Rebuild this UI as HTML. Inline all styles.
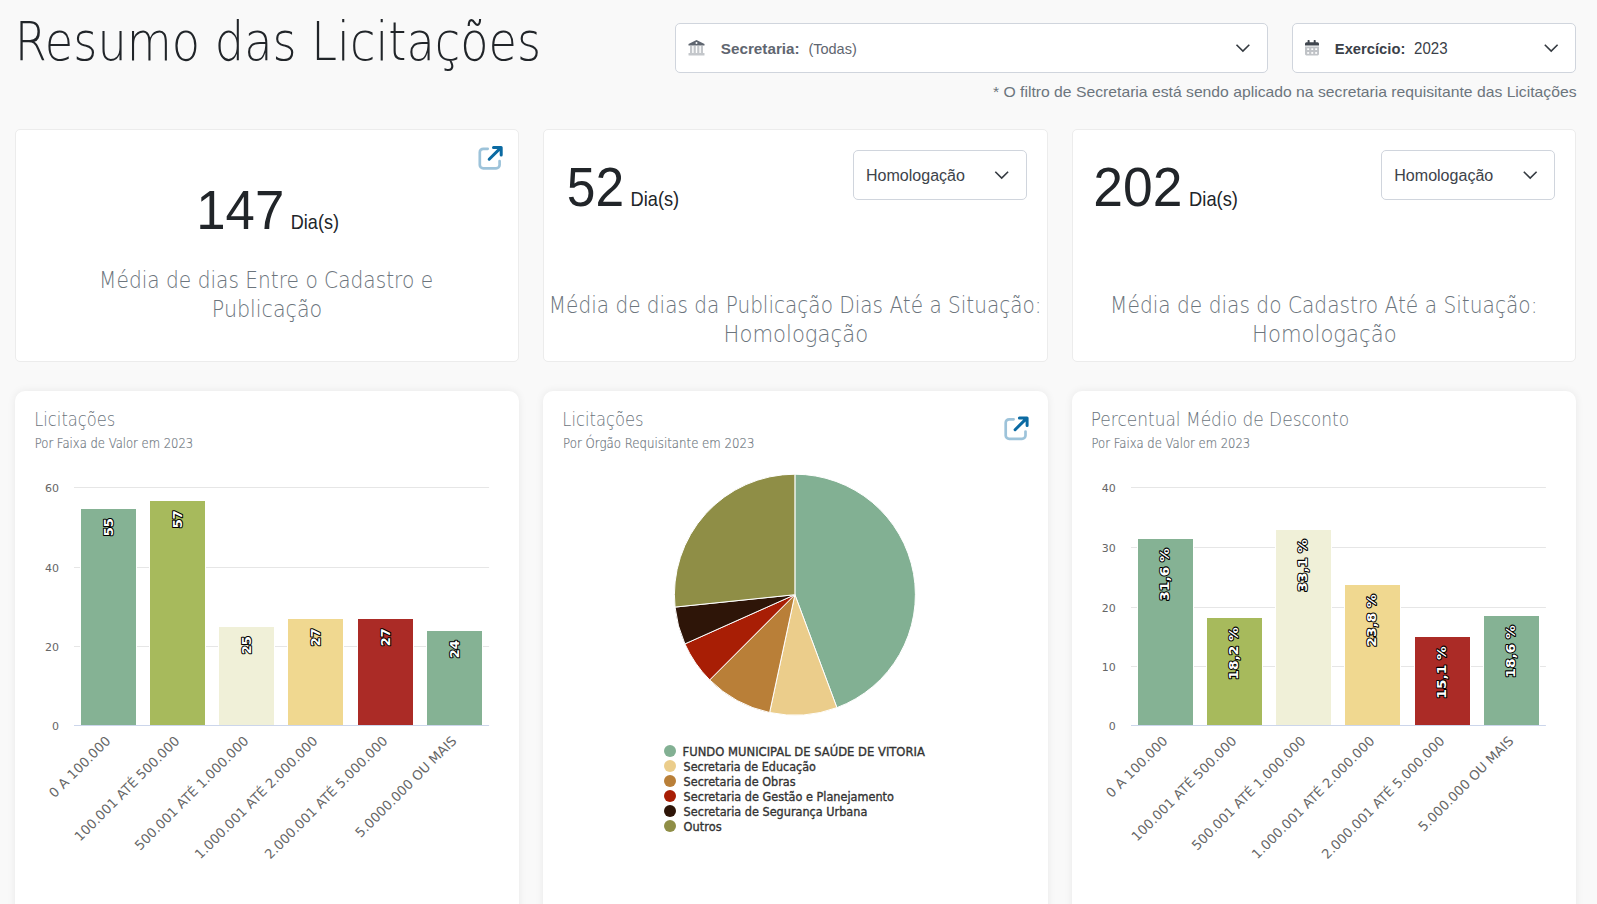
<!DOCTYPE html>
<html lang="pt-BR"><head><meta charset="utf-8"><title>Resumo das Licitações</title>
<style>
*{box-sizing:border-box;margin:0;padding:0}
html,body{width:1597px;height:904px;overflow:hidden;background:#f9f9f9}
body{position:relative;font-family:"Liberation Sans",sans-serif;color:#212529}
.sel{position:absolute;background:#fff;border:1px solid #d0d5dd;border-radius:5px}
.card{position:absolute;background:#fff;border:1px solid #ececec;border-radius:5px;top:129px;height:233px}
.card2{position:absolute;background:#fff;border-radius:10px;top:391px;height:560px;box-shadow:0 0 8px rgba(0,0,0,0.07)}
svg{position:absolute;left:0;top:0}
svg text{font-family:"DejaVu Sans",sans-serif;white-space:pre}
.dl{font-size:13px;font-weight:bold;fill:#fff;stroke:#000;stroke-width:2px;paint-order:stroke;stroke-linejoin:round}
.lg{font-size:11.5px;fill:#333333;stroke:#333333;stroke-width:0.35px}
</style></head>
<body>
<div class="sel" style="left:675px;top:23px;width:593px;height:50px"></div>
<div class="sel" style="left:1292px;top:23px;width:284px;height:50px"></div>
<div class="card" style="left:15px;width:504px"></div>
<div class="card" style="left:543px;width:505px"></div>
<div class="card" style="left:1072px;width:504px"></div>
<div class="sel" style="left:853px;top:150px;width:174px;height:50px"></div>
<div class="sel" style="left:1381px;top:150px;width:174px;height:50px"></div>
<div class="card2" style="left:15px;width:504px"></div>
<div class="card2" style="left:543px;width:505px"></div>
<div class="card2" style="left:1072px;width:504px"></div>
<svg width="1597" height="904" viewBox="0 0 1597 904">
<text x="14.74" y="59.6" style="font-family:'DejaVu Sans', 'Liberation Sans', sans-serif;font-weight:200;font-size:52.8px" fill="#212529" textLength="526.33" lengthAdjust="spacingAndGlyphs">Resumo das Licitações</text>
<text x="720.8" y="53.5" style="font-family:'Liberation Sans', sans-serif;font-weight:700;font-size:15px" fill="#5f6670" textLength="78.81" lengthAdjust="spacingAndGlyphs">Secretaria:</text>
<text x="808.4" y="53.5" style="font-family:'Liberation Sans', sans-serif;font-weight:400;font-size:15px" fill="#5f6670" textLength="48.4" lengthAdjust="spacingAndGlyphs">(Todas)</text>
<text x="1334.82" y="53.5" style="font-family:'Liberation Sans', sans-serif;font-weight:700;font-size:15px" fill="#3a4048" textLength="70.56" lengthAdjust="spacingAndGlyphs">Exercício:</text>
<text x="1414.1" y="53.7" style="font-family:'Liberation Sans', sans-serif;font-weight:400;font-size:15.6px" fill="#3a4048" textLength="33.55" lengthAdjust="spacingAndGlyphs">2023</text>
<text x="993" y="96.8" style="font-family:'Liberation Sans', sans-serif;font-weight:400;font-size:15px" fill="#6c757d" textLength="583.52" lengthAdjust="spacingAndGlyphs">* O filtro de Secretaria está sendo aplicado na secretaria requisitante das Licitações</text>
<text x="196.23" y="229.1" style="font-family:'Liberation Sans', sans-serif;font-weight:400;font-size:56px" fill="#212529" textLength="87.99" lengthAdjust="spacingAndGlyphs">147</text>
<text x="290.81" y="229.1" style="font-family:'Liberation Sans', sans-serif;font-weight:400;font-size:20.3px" fill="#212529" textLength="48.16" lengthAdjust="spacingAndGlyphs">Dia(s)</text>
<text x="99.1" y="287.8" style="font-family:'DejaVu Sans', 'Liberation Sans', sans-serif;font-weight:200;font-size:22.4px" fill="#6c757d" textLength="334" lengthAdjust="spacingAndGlyphs">Média de dias Entre o Cadastro e</text>
<text x="211.86" y="316.9" style="font-family:'DejaVu Sans', 'Liberation Sans', sans-serif;font-weight:200;font-size:22.4px" fill="#6c757d" textLength="110.31" lengthAdjust="spacingAndGlyphs">Publicação</text>
<text x="566.76" y="206" style="font-family:'Liberation Sans', sans-serif;font-weight:400;font-size:56px" fill="#212529" textLength="57.31" lengthAdjust="spacingAndGlyphs">52</text>
<text x="630.6" y="206" style="font-family:'Liberation Sans', sans-serif;font-weight:400;font-size:20.3px" fill="#212529" textLength="48.58" lengthAdjust="spacingAndGlyphs">Dia(s)</text>
<text x="865.98" y="180.7" style="font-family:'Liberation Sans', sans-serif;font-weight:400;font-size:15.8px" fill="#3d434a" textLength="99" lengthAdjust="spacingAndGlyphs">Homologação</text>
<text x="548.81" y="312.6" style="font-family:'DejaVu Sans', 'Liberation Sans', sans-serif;font-weight:200;font-size:22.4px" fill="#6c757d" textLength="492.77" lengthAdjust="spacingAndGlyphs">Média de dias da Publicação Dias Até a Situação:</text>
<text x="723.61" y="341.6" style="font-family:'DejaVu Sans', 'Liberation Sans', sans-serif;font-weight:200;font-size:22.4px" fill="#6c757d" textLength="144.5" lengthAdjust="spacingAndGlyphs">Homologação</text>
<text x="1093.29" y="206" style="font-family:'Liberation Sans', sans-serif;font-weight:400;font-size:56px" fill="#212529" textLength="89.05" lengthAdjust="spacingAndGlyphs">202</text>
<text x="1189.1" y="206" style="font-family:'Liberation Sans', sans-serif;font-weight:400;font-size:20.3px" fill="#212529" textLength="48.89" lengthAdjust="spacingAndGlyphs">Dia(s)</text>
<text x="1394.28" y="180.7" style="font-family:'Liberation Sans', sans-serif;font-weight:400;font-size:15.8px" fill="#3d434a" textLength="99" lengthAdjust="spacingAndGlyphs">Homologação</text>
<text x="1110.1" y="312.7" style="font-family:'DejaVu Sans', 'Liberation Sans', sans-serif;font-weight:200;font-size:22.4px" fill="#6c757d" textLength="427.39" lengthAdjust="spacingAndGlyphs">Média de dias do Cadastro Até a Situação:</text>
<text x="1252.11" y="341.6" style="font-family:'DejaVu Sans', 'Liberation Sans', sans-serif;font-weight:200;font-size:22.4px" fill="#6c757d" textLength="144.5" lengthAdjust="spacingAndGlyphs">Homologação</text>
<text x="34.25" y="426.1" style="font-family:'DejaVu Sans', 'Liberation Sans', sans-serif;font-weight:200;font-size:19.75px" fill="#6c757d" textLength="81.02" lengthAdjust="spacingAndGlyphs">Licitações</text>
<text x="34.72" y="447.9" style="font-family:'DejaVu Sans', 'Liberation Sans', sans-serif;font-weight:200;font-size:13.2px" fill="#6c757d" textLength="158.5" lengthAdjust="spacingAndGlyphs" stroke="#6c757d" stroke-width="0.2">Por Faixa de Valor em 2023</text>
<text x="562.34" y="425.9" style="font-family:'DejaVu Sans', 'Liberation Sans', sans-serif;font-weight:200;font-size:19.75px" fill="#6c757d" textLength="81.22" lengthAdjust="spacingAndGlyphs">Licitações</text>
<text x="563.11" y="447.9" style="font-family:'DejaVu Sans', 'Liberation Sans', sans-serif;font-weight:200;font-size:13.2px" fill="#6c757d" textLength="191.43" lengthAdjust="spacingAndGlyphs" stroke="#6c757d" stroke-width="0.2">Por Órgão Requisitante em 2023</text>
<text x="1090.68" y="426" style="font-family:'DejaVu Sans', 'Liberation Sans', sans-serif;font-weight:200;font-size:19.75px" fill="#6c757d" textLength="258.45" lengthAdjust="spacingAndGlyphs">Percentual Médio de Desconto</text>
<text x="1091.52" y="447.9" style="font-family:'DejaVu Sans', 'Liberation Sans', sans-serif;font-weight:200;font-size:13.2px" fill="#6c757d" textLength="158.71" lengthAdjust="spacingAndGlyphs" stroke="#6c757d" stroke-width="0.2">Por Faixa de Valor em 2023</text>
<text x="682.59" y="756" style="font-family:'DejaVu Sans', 'Liberation Sans', sans-serif;font-weight:400;font-size:11.5px" fill="#333333" textLength="242.27" lengthAdjust="spacingAndGlyphs" stroke="#333333" stroke-width="0.35">FUNDO MUNICIPAL DE SAÚDE DE VITORIA</text>
<text x="683.6" y="771" style="font-family:'DejaVu Sans', 'Liberation Sans', sans-serif;font-weight:400;font-size:11.5px" fill="#333333" textLength="132.23" lengthAdjust="spacingAndGlyphs" stroke="#333333" stroke-width="0.35">Secretaria de Educação</text>
<text x="683.6" y="786" style="font-family:'DejaVu Sans', 'Liberation Sans', sans-serif;font-weight:400;font-size:11.5px" fill="#333333" textLength="111.99" lengthAdjust="spacingAndGlyphs" stroke="#333333" stroke-width="0.35">Secretaria de Obras</text>
<text x="683.6" y="801" style="font-family:'DejaVu Sans', 'Liberation Sans', sans-serif;font-weight:400;font-size:11.5px" fill="#333333" textLength="210.34" lengthAdjust="spacingAndGlyphs" stroke="#333333" stroke-width="0.35">Secretaria de Gestão e Planejamento</text>
<text x="683.6" y="816" style="font-family:'DejaVu Sans', 'Liberation Sans', sans-serif;font-weight:400;font-size:11.5px" fill="#333333" textLength="183.73" lengthAdjust="spacingAndGlyphs" stroke="#333333" stroke-width="0.35">Secretaria de Segurança Urbana</text>
<text x="683.6" y="831" style="font-family:'DejaVu Sans', 'Liberation Sans', sans-serif;font-weight:400;font-size:11.5px" fill="#333333" textLength="37.99" lengthAdjust="spacingAndGlyphs" stroke="#333333" stroke-width="0.35">Outros</text>

<g transform="translate(688,39.5)">
    <path d="M8.5 0.5 L16.5 4.5 V6 H0.5 V4.5 Z" fill="#5f6670"/>
    <circle cx="8.5" cy="3.6" r="1" fill="#fff"/>
    <rect x="2" y="6.5" width="2.2" height="7" fill="#c4c7cb"/><rect x="5.6" y="6.5" width="2.2" height="7" fill="#c4c7cb"/><rect x="9.2" y="6.5" width="2.2" height="7" fill="#c4c7cb"/><rect x="12.8" y="6.5" width="2.2" height="7" fill="#c4c7cb"/>
    <rect x="0.5" y="13.5" width="16" height="2.5" rx="0.5" fill="#c4c7cb"/>
</g>
<g transform="translate(1305,40)">
    <rect x="2.6" y="0" width="2" height="3.2" rx="0.7" fill="#40464e"/><rect x="8.7" y="0" width="2" height="3.2" rx="0.7" fill="#40464e"/>
    <path d="M0 3.8 A1.5 1.5 0 0 1 1.5 2.3 H12.5 A1.5 1.5 0 0 1 14 3.8 V5.6 H0 Z" fill="#40464e"/>
    <path d="M0 6.4 H14 V14 A1.4 1.4 0 0 1 12.6 15.4 H1.4 A1.4 1.4 0 0 1 0 14 Z" fill="#c0c3c7"/>
    <g fill="#fff"><rect x="2.2" y="8.3" width="1.9" height="1.7"/><rect x="6.3" y="8.3" width="1.9" height="1.7"/><rect x="10.2" y="8.3" width="1.9" height="1.7"/><rect x="2.2" y="12.1" width="1.9" height="1.7"/><rect x="6.3" y="12.1" width="1.9" height="1.7"/><rect x="10.2" y="12.1" width="1.9" height="1.7"/></g>
</g>
<path d="M1236.5 44.8 L1242.9 51.1 L1249.3 44.8" fill="none" stroke="#343a40" stroke-width="1.6"/>
<path d="M1544.8 44.8 L1551.2 51.1 L1557.6 44.8" fill="none" stroke="#343a40" stroke-width="1.6"/>
<path d="M995.3 171.8 L1001.7 178.1 L1008.1 171.8" fill="none" stroke="#343a40" stroke-width="1.6"/>
<path d="M1523.8 171.8 L1530.2 178.1 L1536.6 171.8" fill="none" stroke="#343a40" stroke-width="1.6"/>
<g transform="translate(478.3,146)">
<path d="M9.4 2.8 H5 A3.5 3.5 0 0 0 1.5 6.3 V18.9 A3.5 3.5 0 0 0 5 22.4 H17.8 A3.5 3.5 0 0 0 21.3 18.9 V15" fill="none" stroke="#0b6aa2" stroke-opacity="0.4" stroke-width="2.7" stroke-linecap="round"/>
<path d="M10.9 13.2 L22.6 1.6 M15.2 1.5 H22.9 V9" fill="none" stroke="#0b6aa2" stroke-width="3" stroke-linecap="round" stroke-linejoin="round"/>
</g>
<g transform="translate(1004.2,416.5)">
<path d="M9.4 2.8 H5 A3.5 3.5 0 0 0 1.5 6.3 V18.9 A3.5 3.5 0 0 0 5 22.4 H17.8 A3.5 3.5 0 0 0 21.3 18.9 V15" fill="none" stroke="#0b6aa2" stroke-opacity="0.4" stroke-width="2.7" stroke-linecap="round"/>
<path d="M10.9 13.2 L22.6 1.6 M15.2 1.5 H22.9 V9" fill="none" stroke="#0b6aa2" stroke-width="3" stroke-linecap="round" stroke-linejoin="round"/>
</g>

<text x="58.9" y="729.8" text-anchor="end" font-size="11" fill="#666666">0</text>
<line x1="74" x2="489.1" y1="646.5" y2="646.5" stroke="#e6e6e6" stroke-width="1"/>
<text x="58.9" y="650.8" text-anchor="end" font-size="11" fill="#666666">20</text>
<line x1="74" x2="489.1" y1="567.5" y2="567.5" stroke="#e6e6e6" stroke-width="1"/>
<text x="58.9" y="571.8" text-anchor="end" font-size="11" fill="#666666">40</text>
<line x1="74" x2="489.1" y1="487.5" y2="487.5" stroke="#e6e6e6" stroke-width="1"/>
<text x="58.9" y="491.8" text-anchor="end" font-size="11" fill="#666666">60</text>
<rect x="80.5" y="508.5" width="56" height="217.0" fill="#85b294" stroke="#ffffff" stroke-width="1"/>
<text transform="translate(113.1,518.2) rotate(-90)" text-anchor="end" class="dl">55</text>
<text transform="translate(111.4,741.7) rotate(-45)" text-anchor="end" font-size="13.2" fill="#666666">0 A 100.000</text>
<rect x="149.5" y="500.5" width="56" height="225.0" fill="#a7ba5c" stroke="#ffffff" stroke-width="1"/>
<text transform="translate(182.1,510.2) rotate(-90)" text-anchor="end" class="dl">57</text>
<text transform="translate(180.4,741.7) rotate(-45)" text-anchor="end" font-size="13.2" fill="#666666">100.001 ATÉ 500.000</text>
<rect x="218.5" y="626.5" width="56" height="99.0" fill="#f0f0d8" stroke="#ffffff" stroke-width="1"/>
<text transform="translate(251.1,636.2) rotate(-90)" text-anchor="end" class="dl">25</text>
<text transform="translate(249.4,741.7) rotate(-45)" text-anchor="end" font-size="13.2" fill="#666666">500.001 ATÉ 1.000.000</text>
<rect x="287.5" y="618.5" width="56" height="107.0" fill="#f0d890" stroke="#ffffff" stroke-width="1"/>
<text transform="translate(320.1,628.2) rotate(-90)" text-anchor="end" class="dl">27</text>
<text transform="translate(318.4,741.7) rotate(-45)" text-anchor="end" font-size="13.2" fill="#666666">1.000.001 ATÉ 2.000.000</text>
<rect x="357.5" y="618.5" width="56" height="107.0" fill="#ab2b26" stroke="#ffffff" stroke-width="1"/>
<text transform="translate(390.1,628.2) rotate(-90)" text-anchor="end" class="dl">27</text>
<text transform="translate(388.4,741.7) rotate(-45)" text-anchor="end" font-size="13.2" fill="#666666">2.000.001 ATÉ 5.000.000</text>
<rect x="426.5" y="630.5" width="56" height="95.0" fill="#85b294" stroke="#ffffff" stroke-width="1"/>
<text transform="translate(459.1,640.2) rotate(-90)" text-anchor="end" class="dl">24</text>
<text transform="translate(457.4,741.7) rotate(-45)" text-anchor="end" font-size="13.2" fill="#666666">5.0000.000 OU MAIS</text>
<line x1="74" x2="489.1" y1="725.5" y2="725.5" stroke="#ccd6eb" stroke-width="1"/>
<text x="1115.7" y="729.8" text-anchor="end" font-size="11" fill="#666666">0</text>
<line x1="1131" x2="1545.9" y1="666.5" y2="666.5" stroke="#e6e6e6" stroke-width="1"/>
<text x="1115.7" y="670.8" text-anchor="end" font-size="11" fill="#666666">10</text>
<line x1="1131" x2="1545.9" y1="607.5" y2="607.5" stroke="#e6e6e6" stroke-width="1"/>
<text x="1115.7" y="611.8" text-anchor="end" font-size="11" fill="#666666">20</text>
<line x1="1131" x2="1545.9" y1="547.5" y2="547.5" stroke="#e6e6e6" stroke-width="1"/>
<text x="1115.7" y="551.8" text-anchor="end" font-size="11" fill="#666666">30</text>
<line x1="1131" x2="1545.9" y1="487.5" y2="487.5" stroke="#e6e6e6" stroke-width="1"/>
<text x="1115.7" y="491.8" text-anchor="end" font-size="11" fill="#666666">40</text>
<rect x="1137.5" y="538.5" width="56" height="187.0" fill="#85b294" stroke="#ffffff" stroke-width="1"/>
<text transform="translate(1169.3,548.2) rotate(-90)" text-anchor="end" class="dl" textLength="52.5" lengthAdjust="spacingAndGlyphs">31,6 %</text>
<text transform="translate(1168.4,741.7) rotate(-45)" text-anchor="end" font-size="13.2" fill="#666666">0 A 100.000</text>
<rect x="1206.5" y="617.5" width="56" height="108.0" fill="#a7ba5c" stroke="#ffffff" stroke-width="1"/>
<text transform="translate(1238.3,627.2) rotate(-90)" text-anchor="end" class="dl" textLength="52.5" lengthAdjust="spacingAndGlyphs">18,2 %</text>
<text transform="translate(1237.4,741.7) rotate(-45)" text-anchor="end" font-size="13.2" fill="#666666">100.001 ATÉ 500.000</text>
<rect x="1275.5" y="529.5" width="56" height="196.0" fill="#f0f0d8" stroke="#ffffff" stroke-width="1"/>
<text transform="translate(1307.3,539.2) rotate(-90)" text-anchor="end" class="dl" textLength="52.5" lengthAdjust="spacingAndGlyphs">33,1 %</text>
<text transform="translate(1306.4,741.7) rotate(-45)" text-anchor="end" font-size="13.2" fill="#666666">500.001 ATÉ 1.000.000</text>
<rect x="1344.5" y="584.5" width="56" height="141.0" fill="#f0d890" stroke="#ffffff" stroke-width="1"/>
<text transform="translate(1376.3,594.2) rotate(-90)" text-anchor="end" class="dl" textLength="52.5" lengthAdjust="spacingAndGlyphs">23,8 %</text>
<text transform="translate(1375.4,741.7) rotate(-45)" text-anchor="end" font-size="13.2" fill="#666666">1.000.001 ATÉ 2.000.000</text>
<rect x="1414.5" y="636.5" width="56" height="89.0" fill="#ab2b26" stroke="#ffffff" stroke-width="1"/>
<text transform="translate(1446.3,646.2) rotate(-90)" text-anchor="end" class="dl" textLength="52.5" lengthAdjust="spacingAndGlyphs">15,1 %</text>
<text transform="translate(1445.4,741.7) rotate(-45)" text-anchor="end" font-size="13.2" fill="#666666">2.000.001 ATÉ 5.000.000</text>
<rect x="1483.5" y="615.5" width="56" height="110.0" fill="#85b294" stroke="#ffffff" stroke-width="1"/>
<text transform="translate(1515.3,625.2) rotate(-90)" text-anchor="end" class="dl" textLength="52.5" lengthAdjust="spacingAndGlyphs">18,6 %</text>
<text transform="translate(1514.4,741.7) rotate(-45)" text-anchor="end" font-size="13.2" fill="#666666">5.000.000 OU MAIS</text>
<line x1="1131" x2="1545.9" y1="725.5" y2="725.5" stroke="#ccd6eb" stroke-width="1"/>
<path d="M794.9 594.7 L794.9 474.2 A120.5 120.5 0 0 1 836.9 707.64 Z" fill="#82b093" stroke="#ffffff" stroke-width="1" stroke-linejoin="round"/>
<path d="M794.9 594.7 L836.9 707.64 A120.5 120.5 0 0 1 769.64 712.52 Z" fill="#ebcd8b" stroke="#ffffff" stroke-width="1" stroke-linejoin="round"/>
<path d="M794.9 594.7 L769.64 712.52 A120.5 120.5 0 0 1 709.69 679.91 Z" fill="#b97f38" stroke="#ffffff" stroke-width="1" stroke-linejoin="round"/>
<path d="M794.9 594.7 L709.69 679.91 A120.5 120.5 0 0 1 684.9 643.9 Z" fill="#a81e05" stroke="#ffffff" stroke-width="1" stroke-linejoin="round"/>
<path d="M794.9 594.7 L684.9 643.9 A120.5 120.5 0 0 1 675.04 607.09 Z" fill="#2e1508" stroke="#ffffff" stroke-width="1" stroke-linejoin="round"/>
<path d="M794.9 594.7 L675.04 607.09 A120.5 120.5 0 0 1 794.9 474.2 Z" fill="#8f8e46" stroke="#ffffff" stroke-width="1" stroke-linejoin="round"/>
<circle cx="670" cy="751" r="6" fill="#82b093"/>
<circle cx="670" cy="766" r="6" fill="#ebcd8b"/>
<circle cx="670" cy="781" r="6" fill="#b97f38"/>
<circle cx="670" cy="796" r="6" fill="#a81e05"/>
<circle cx="670" cy="811" r="6" fill="#2e1508"/>
<circle cx="670" cy="826" r="6" fill="#8f8e46"/>
</svg>
</body></html>
